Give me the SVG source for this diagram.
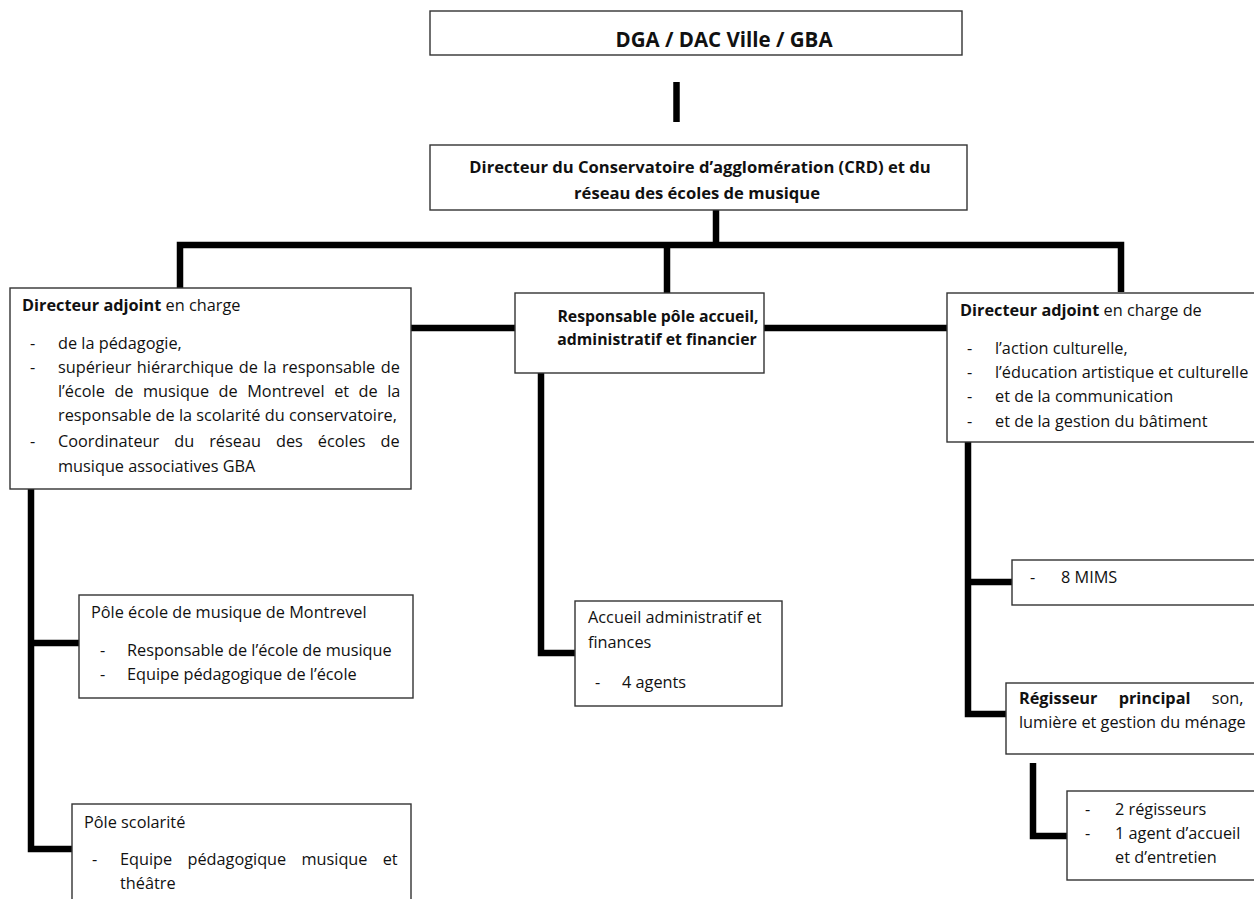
<svg xmlns="http://www.w3.org/2000/svg" width="1254" height="899" viewBox="0 0 1254 899">
<style>
text{font-family:"Open Sans","Liberation Sans",sans-serif;font-size:16.3px;fill:#111}
.b{font-weight:bold}
.c{text-anchor:middle}
.box{fill:#fff;stroke:#333;stroke-width:1.4}
.ln{fill:none;stroke:#000;stroke-width:6.5;stroke-linejoin:miter}
</style>
<rect width="1254" height="899" fill="#fff"/>
<g id="connectors">
<line class="ln" x1="676.5" y1="82" x2="676.5" y2="122"/>
<line class="ln" x1="716" y1="210" x2="716" y2="245"/>
<polyline class="ln" points="180,290 180,245 1121,245 1121,292"/>
<line class="ln" x1="667" y1="245" x2="667" y2="293"/>
<line class="ln" x1="411" y1="328" x2="947" y2="328"/>
<polyline class="ln" points="31,489 31,849 72,849"/>
<line class="ln" x1="31" y1="643" x2="79" y2="643"/>
<polyline class="ln" points="541,373 541,653 575,653"/>
<polyline class="ln" points="968,442 968,714 1006,714"/>
<line class="ln" x1="968" y1="582" x2="1012" y2="582"/>
<polyline class="ln" points="1033,763 1033,836 1067,836"/>
</g>
<g id="dga">
<rect class="box" x="430" y="11" width="532" height="44"/>
<text class="b c" x="724" y="47" style="font-size:20.5px">DGA / DAC Ville / GBA</text>
</g>
<g id="directeur">
<rect class="box" x="430" y="145" width="537" height="65"/>
<text class="b c" x="700" y="173" style="font-size:16.6px">Directeur du Conservatoire d’agglomération (CRD) et du</text>
<text class="b c" x="697" y="199" style="font-size:16.6px">réseau des écoles de musique</text>
</g>
<g id="adjoint-pedagogie">
<rect class="box" x="10" y="288" width="401" height="201"/>
<text x="22" y="311"><tspan class="b">Directeur adjoint</tspan> en charge</text>
<text x="30" y="349">-</text><text x="58" y="349">de la pédagogie,</text>
<text x="30" y="373">-</text><text x="58" y="373" word-spacing="1.2">supérieur hiérarchique de la responsable de</text>
<text x="58" y="397" word-spacing="5.3">l’école de musique de Montrevel et de la</text>
<text x="58" y="421">responsable de la scolarité du conservatoire,</text>
<text x="30" y="447">-</text><text x="58" y="447" word-spacing="10.8">Coordinateur du réseau des écoles de</text>
<text x="58" y="472">musique associatives GBA</text>
</g>
<g id="responsable-accueil">
<rect class="box" x="515" y="293" width="249" height="80"/>
<text class="b c" x="658" y="322" style="font-size:15.8px">Responsable pôle accueil,</text>
<text class="b c" x="657" y="345" style="font-size:15.8px">administratif et financier</text>
</g>
<g id="adjoint-action-culturelle">
<rect class="box" x="947" y="293" width="312" height="149"/>
<text x="960" y="316"><tspan class="b">Directeur adjoint</tspan> en charge de</text>
<text x="967" y="354">-</text><text x="995" y="354">l’action culturelle,</text>
<text x="967" y="378">-</text><text x="995" y="378">l’éducation artistique et culturelle</text>
<text x="967" y="402">-</text><text x="995" y="402">et de la communication</text>
<text x="967" y="427">-</text><text x="995" y="427">et de la gestion du bâtiment</text>
</g>
<g id="pole-montrevel">
<rect class="box" x="79" y="595" width="334" height="103"/>
<text x="91" y="618">Pôle école de musique de Montrevel</text>
<text x="100" y="656">-</text><text x="127" y="656">Responsable de l’école de musique</text>
<text x="100" y="680">-</text><text x="127" y="680">Equipe pédagogique de l’école</text>
</g>
<g id="pole-scolarite">
<rect class="box" x="72" y="804" width="339" height="110"/>
<text x="84" y="828">Pôle scolarité</text>
<text x="92" y="865">-</text><text x="120" y="865" word-spacing="11">Equipe pédagogique musique et</text>
<text x="120" y="889">théâtre</text>
</g>
<g id="accueil-finances">
<rect class="box" x="575" y="601" width="207" height="105"/>
<text x="588" y="623">Accueil administratif et</text>
<text x="588" y="648">finances</text>
<text x="595" y="688">-</text><text x="622" y="688">4 agents</text>
</g>
<g id="mims">
<rect class="box" x="1012" y="560" width="247" height="45"/>
<text x="1030" y="583">-</text><text x="1061" y="583">8 MIMS</text>
</g>
<g id="regisseur">
<rect class="box" x="1006" y="683" width="253" height="71"/>
<text x="1019" y="704" word-spacing="17"><tspan class="b">Régisseur principal</tspan> son,</text>
<text x="1019" y="728">lumière et gestion du ménage</text>
</g>
<g id="equipe-regie">
<rect class="box" x="1067" y="791" width="192" height="89"/>
<text x="1085" y="815">-</text><text x="1115" y="815">2 régisseurs</text>
<text x="1085" y="839">-</text><text x="1115" y="839">1 agent d’accueil</text>
<text x="1115" y="863">et d’entretien</text>
</g>
</svg>
